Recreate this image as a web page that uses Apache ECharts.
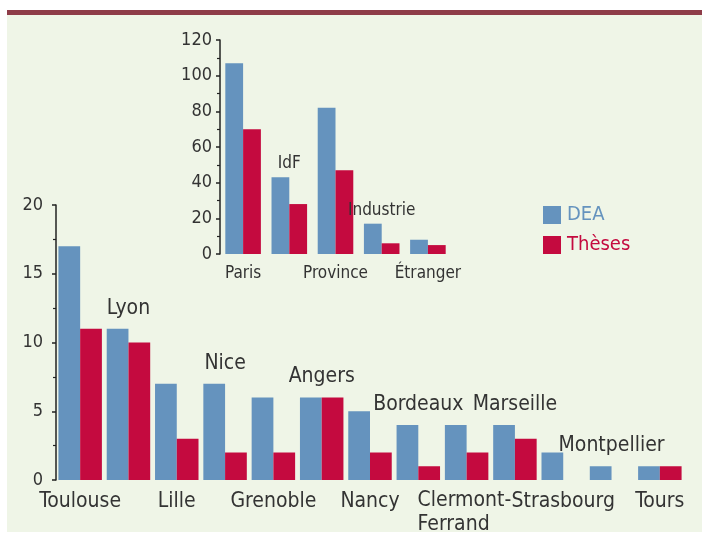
<!DOCTYPE html>
<html>
<head>
<meta charset="utf-8">
<script src="https://cdn.jsdelivr.net/npm/echarts@6/dist/echarts.min.js"></script>
<style>
  html, body { margin: 0; padding: 0; background: #fff; }
  .frame { position: absolute; left: 7px; top: 10px; width: 695px; height: 522px; background: #eff5e7; border-top: 5px solid #8e3c48; box-sizing: border-box; }
  #chart { position: absolute; left: 0; top: 0; width: 702px; height: 544px; }
</style>
</head>
<body>
<div class="frame"></div>
<div id="chart"></div>
<script>
// villes (graphique principal)
const cities = ['Toulouse', 'Lyon', 'Lille', 'Nice', 'Grenoble', 'Angers', 'Nancy', 'Bordeaux',
  'Clermont-Ferrand', 'Marseille', 'Strasbourg', 'Montpellier', 'Tours'];
const deaCities = [17, 11, 7, 7, 6, 6, 5, 4, 4, 4, 2, 1, 1];
const thesesCities = [11, 10, 3, 2, 2, 6, 2, 1, 2, 3, 0, 0, 1];
const mainTicks = [0, 5, 10, 15, 20];

// encart
const regions = ['Paris', 'IdF', 'Province', 'Industrie', 'Étranger'];
const deaRegions = [107, 43, 82, 17, 8];
const thesesRegions = [70, 28, 47, 6, 5];
const insetTicks = [0, 20, 40, 60, 80, 100, 120];

const BLUE = '#6593be';
const RED = '#c40a3f';
const TEXT = '#333333';
const FONT = '"DejaVu Sans Condensed", "DejaVu Sans", sans-serif';

// les libellés impairs sont posés au-dessus des barres
const topLabels = (a, b) => a.map((v, i) => (i % 2 === 1 ? Math.max(v, b[i]) : '-'));
const belowLabel = (value, index) => {
  if (index % 2 === 1) return '';
  if (value.indexOf('-') > 0) {
    // nom composé sur deux lignes, calé à gauche
    return value.split('-').map((s, k, arr) => `{cf|${s}${k < arr.length - 1 ? '-' : ''}}`).join('\n');
  }
  return value;
};

const chart = echarts.init(document.getElementById('chart'));
const option = {
  animation: false,
  textStyle: { fontFamily: FONT, color: TEXT },
  legend: {
    orient: 'vertical',
    left: 543,
    top: 205,
    padding: 0,
    itemWidth: 18,
    itemHeight: 18,
    itemGap: 10,
    icon: 'rect',
    data: [
      { name: 'DEA', textStyle: { color: BLUE } },
      { name: 'Thèses', textStyle: { color: RED } },
    ],
    textStyle: { fontSize: 20, lineHeight: 18, fontFamily: FONT, padding: [0, 0, 0, 1] },
  },
  grid: [
    { left: 56, right: 18, top: 205, bottom: 64 },
    { left: 220, width: 231, top: 40, height: 214 },
  ],
  xAxis: [
    {
      type: 'category',
      gridIndex: 0,
      data: cities,
      axisLine: { show: false },
      axisTick: { show: false },
      axisLabel: {
        interval: 0,
        margin: 9,
        fontSize: 21,
        lineHeight: 25,
        color: TEXT,
        fontFamily: FONT,
        formatter: belowLabel,
        rich: {
          cf: { width: 98, align: 'left', fontSize: 21, lineHeight: 24, color: TEXT, fontFamily: FONT },
        },
      },
    },
    {
      type: 'category',
      gridIndex: 1,
      data: regions,
      axisLine: { show: false },
      axisTick: { show: false },
      axisLabel: {
        interval: 0,
        margin: 11,
        fontSize: 17,
        color: TEXT,
        fontFamily: FONT,
        formatter: belowLabel,
      },
    },
  ],
  yAxis: [
    {
      type: 'value',
      gridIndex: 0,
      min: mainTicks[0],
      max: mainTicks[mainTicks.length - 1],
      interval: 5,
      splitLine: { show: false },
      axisLine: { show: true, lineStyle: { color: '#222', width: 1.5 } },
      axisTick: { show: true, inside: false, length: 4, lineStyle: { color: '#222', width: 1.5 } },
      minorTick: { show: true, splitNumber: 2, length: 3, lineStyle: { color: '#222', width: 1.2 } },
      axisLabel: { fontSize: 18, margin: 13, color: TEXT, fontFamily: FONT },
    },
    {
      type: 'value',
      gridIndex: 1,
      min: insetTicks[0],
      max: insetTicks[insetTicks.length - 1],
      interval: 20,
      splitLine: { show: false },
      axisLine: { show: true, lineStyle: { color: '#222', width: 1.5 } },
      axisTick: { show: true, inside: false, length: 4, lineStyle: { color: '#222', width: 1.5 } },
      minorTick: { show: true, splitNumber: 2, length: 3, lineStyle: { color: '#222', width: 1.2 } },
      axisLabel: { fontSize: 18, margin: 8, color: TEXT, fontFamily: FONT },
    },
  ],
  series: [
    {
      name: 'DEA', type: 'bar', xAxisIndex: 0, yAxisIndex: 0,
      data: deaCities, itemStyle: { color: BLUE }, barGap: '0%', barCategoryGap: '10%',
    },
    {
      name: 'Thèses', type: 'bar', xAxisIndex: 0, yAxisIndex: 0,
      data: thesesCities, itemStyle: { color: RED }, barGap: '0%', barCategoryGap: '10%',
    },
    {
      name: 'DEA', type: 'bar', xAxisIndex: 1, yAxisIndex: 1,
      data: deaRegions, itemStyle: { color: BLUE }, barGap: '0%', barCategoryGap: '23%',
    },
    {
      name: 'Thèses', type: 'bar', xAxisIndex: 1, yAxisIndex: 1,
      data: thesesRegions, itemStyle: { color: RED }, barGap: '0%', barCategoryGap: '23%',
    },
    {
      name: 'villes-haut', type: 'scatter', xAxisIndex: 0, yAxisIndex: 0,
      data: topLabels(deaCities, thesesCities),
      symbolSize: 0.1,
      itemStyle: { color: 'transparent', opacity: 1 },
      label: {
        show: true, position: 'top', distance: 10, fontSize: 21, color: TEXT, opacity: 1, fontFamily: FONT,
        formatter: (p) => cities[p.dataIndex],
      },
      silent: true,
    },
    {
      name: 'encart-haut', type: 'scatter', xAxisIndex: 1, yAxisIndex: 1,
      data: topLabels(deaRegions, thesesRegions),
      symbolSize: 0.1,
      itemStyle: { color: 'transparent', opacity: 1 },
      label: {
        show: true, position: 'top', distance: 5, fontSize: 17, color: TEXT, opacity: 1, fontFamily: FONT,
        formatter: (p) => regions[p.dataIndex],
      },
      silent: true,
    },
  ],
};
chart.setOption(option);
</script>
</body>
</html>
